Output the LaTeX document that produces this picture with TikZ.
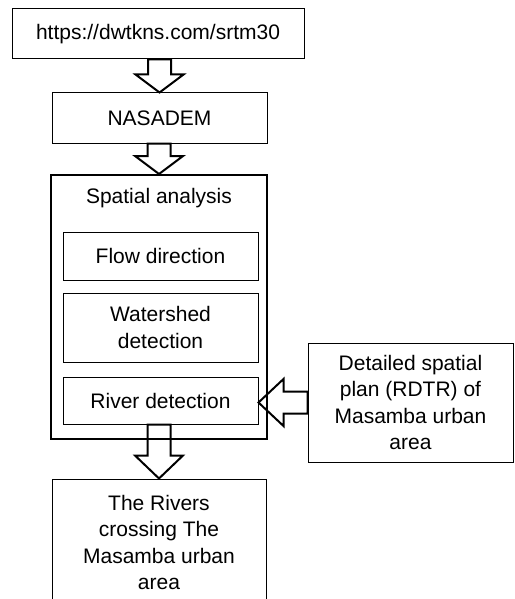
\documentclass[tikz,border=0pt]{standalone}
\usepackage{fontspec}
\setmainfont{Liberation Sans}
\usetikzlibrary{calc}

% hollow block arrows between two named nodes
\newcommand{\blockdown}[3]{%
  \draw[blockarrow]
    ($(#1.south -| #2.north)+(-11.5,0)$) -- ($(#2.north)+(-11.5,-#3)$)
    -- ($(#2.north)+(-24,-#3)$) -- (#2.north)
    -- ($(#2.north)+(24,-#3)$) -- ($(#2.north)+(11.5,-#3)$)
    -- ($(#1.south -| #2.north)+(11.5,0)$) -- cycle;}
\newcommand{\blockleft}[3]{%
  \draw[blockarrow]
    ($(#1.west)+(0,-11)$) -- ($(#2.east |- #1.west)+(#3,-11)$)
    -- ($(#2.east |- #1.west)+(#3,-23.5)$) -- (#2.east |- #1.west)
    -- ($(#2.east |- #1.west)+(#3,23.5)$) -- ($(#2.east |- #1.west)+(#3,11)$)
    -- ($(#1.west)+(0,11)$) -- cycle;}

\begin{document}
\begin{tikzpicture}[x=1pt, y=-1pt,
    every node/.style={font=\fontsize{21}{26.3}\selectfont, align=center, inner sep=0pt},
    box/.style={draw, line width=1pt},
    bigbox/.style={draw, line width=2pt},
    blockarrow/.style={draw, line width=2pt, line join=miter}]
    \useasboundingbox (0,0) rectangle (514,599);
    \clip (0,0) rectangle (514,599);

    % Sources
    \node[box, minimum width=292, minimum height=50] (src) at (158,34) {https://dwtkns.com/srtm30};
    \node[box, minimum width=215, minimum height=50] (nasadem) at (159.5,118) {NASADEM};

    % Spatial analysis with its three steps
    \node[bigbox, minimum width=216, minimum height=264] (analysis) at (159,307) {};
    \node (title) at (159,198) {Spatial analysis};
    \node[box, minimum width=195, minimum height=48] (flow) at (160.5,256) {Flow direction};
    \node[box, minimum width=195, minimum height=69] (watershed) at (160.5,327.5) {Watershed\\detection};
    \node[box, minimum width=195, minimum height=47] (river) at (160.5,400.5) {River detection};

    % Side input and result
    \node[box, minimum width=205, minimum height=119] (plan) at (410.5,402.5) {Detailed spatial\\plan (RDTR) of\\Masamba urban\\area};
    \node[box, minimum width=214, minimum height=127] (rivers) at (159,542.5) {The Rivers\\crossing The\\Masamba urban\\area};

    % Arrows
    \blockdown{src}{nasadem}{18}
    \blockdown{nasadem}{analysis}{18}
    \blockdown{river}{rivers}{23}
    \blockleft{plan}{river}{25}
\end{tikzpicture}
\end{document}
